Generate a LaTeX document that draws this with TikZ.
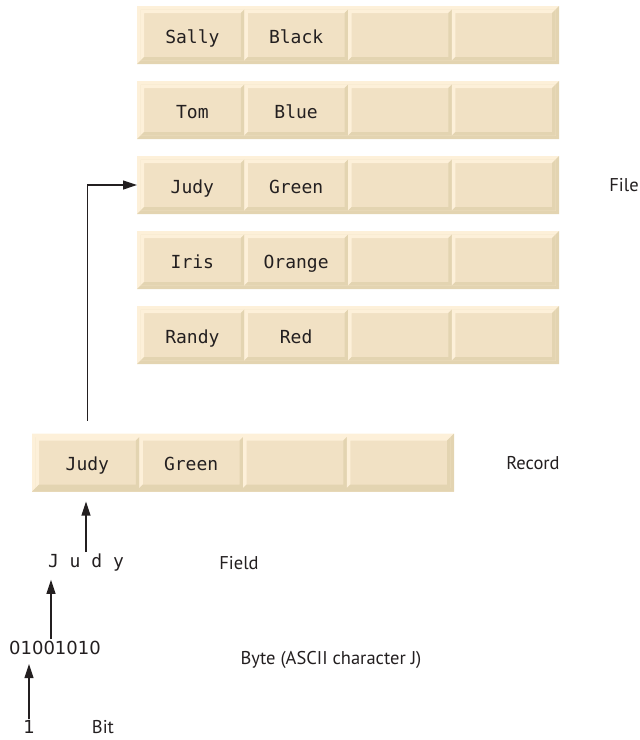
\documentclass[tikz,border=0pt]{standalone}
\usepackage{fontspec}
\setmonofont{DejaVu Sans Mono}
\newfontfamily\labelfont{PT Sans}
\newfontfamily\digitfont{DejaVu Sans}
\usetikzlibrary{positioning,arrows.meta}
\definecolor{cellface}{HTML}{F1E1C4}
\definecolor{celllite}{HTML}{FDF0D9}
\definecolor{celldark}{HTML}{E3D4B1}
\definecolor{ink}{HTML}{231F20}
\tikzset{
	bevelled/.style={fill=cellface, inner sep=0pt, outer sep=0pt,
		path picture={
			\fill[celllite] (path picture bounding box.north west) -- (path picture bounding box.north east)
				-- ([shift={(-3.5pt,-3.5pt)}]path picture bounding box.north east)
				-- ([shift={(3.5pt,-3.5pt)}]path picture bounding box.north west)
				-- ([shift={(3.5pt,3.5pt)}]path picture bounding box.south west)
				-- (path picture bounding box.south west) -- cycle;
			\fill[celldark] (path picture bounding box.south east) -- (path picture bounding box.south west)
				-- ([shift={(3.5pt,3.5pt)}]path picture bounding box.south west)
				-- ([shift={(-3.5pt,3.5pt)}]path picture bounding box.south east)
				-- ([shift={(-3.5pt,-3.5pt)}]path picture bounding box.north east)
				-- (path picture bounding box.north east) -- cycle;
		}},
	rowframe/.style={bevelled, minimum width=422pt, minimum height=58pt},
	cell/.style={bevelled, minimum width=103.75pt, minimum height=51pt,
		text height=16pt, text depth=0pt, font=\fontsize{18}{20}\selectfont\ttfamily, text=ink},
	lbl/.style={font=\fontsize{18.5}{20}\selectfont\labelfont, text=ink, inner sep=0pt},
	arr/.style={draw=ink, line width=1.2pt, -{Triangle[length=14pt,width=9pt]}}
}
\begin{document}
\begin{tikzpicture}[x=1pt, y=-1pt]
	\useasboundingbox (0,0) rectangle (640,740);
	% file: five records
	\foreach \nm/\ypos/\first/\second in {sally/35/Sally/Black, tom/110/Tom/Blue, judyf/185/Judy/Green, iris/260/Iris/Orange, randy/335/Randy/Red} {
		\node[rowframe] (\nm) at (348,\ypos) {};
		\node[cell, anchor=west] (\nm-1) at ([xshift=3.5pt]\nm.west) {\first};
		\node[cell, right=0pt of \nm-1] (\nm-2) {\second};
		\node[cell, right=0pt of \nm-2] (\nm-3) {};
		\node[cell, right=0pt of \nm-3] (\nm-4) {};
	}
	% one record
	\node[rowframe] (rec) at (243,462.5) {};
	\node[cell, anchor=west] (rec-1) at ([xshift=3.5pt]rec.west) {Judy};
	\node[cell, right=0pt of rec-1] (rec-2) {Green};
	\node[cell, right=0pt of rec-2] (rec-3) {};
	\node[cell, right=0pt of rec-3] (rec-4) {};
	% field, byte, bit
	\node[font=\fontsize{18}{20}\selectfont\ttfamily, text=ink, inner sep=2pt] (judy) at (86,563) {J u d y};
	\node[font=\fontsize{18}{20}\selectfont\digitfont, text=ink, inner sep=2pt] (byte) at (55,648) {01001010};
	\node[font=\fontsize{18}{20}\selectfont\digitfont, text=ink, inner sep=1pt] (bit) at (29,727) {1};
	% labels
	\node[lbl] (filelbl) at (624,185) {File};
	\node[lbl] (reclbl) at (533,463) {Record};
	\node[lbl] (fieldlbl) at (239,563) {Field};
	\node[lbl] (bytelbl) at (331,660) {Byte (ASCII character J)};
	\node[lbl] (bitlbl) at (103,727) {Bit};
	% connectors
	\draw[arr, shorten <=13pt] (rec-1.north |- rec.north) |- (judyf.west);
	\draw[arr, shorten >=10pt] (judy.north) -- (judy.north |- rec.south);
	\draw[arr, shorten >=6pt] ([xshift=-4pt]byte.north) -- ([xshift=-4pt]byte.north |- judy.south);
	\draw[arr, shorten >=7pt] (bit.north) -- (bit.north |- byte.south);
\end{tikzpicture}
\end{document}
